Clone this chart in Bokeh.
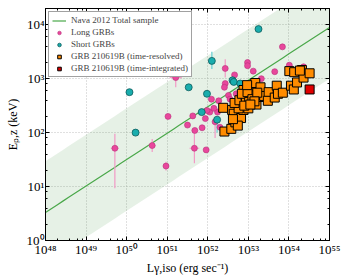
import numpy as np
from bokeh.plotting import figure
from bokeh.models import (LogAxis, LogTicker, CustomJSTickFormatter, Legend,
                          LegendItem, Range1d)
from bokeh.embed import file_html
from bokeh.resources import INLINE

# ---- data (log10 values) ----
# Nava 2012 total sample relation: log Ep = a + b (log L - 48), band +/- w dex
nava_a = 0.52
nava_b = 0.49
nava_w = 0.95
nava_logL = [48.0, 55.0]

long_logL = [49.71, 50.63, 50.97, 51.02, 51.67, 51.96, 51.21, 51.63, 51.68, 51.86,
             52.05, 51.94, 52.18, 52.24, 51.50, 52.43, 52.98, 52.98, 53.12, 53.65,
             54.01, 54.36, 53.84, 52.66, 53.32, 52.43, 52.41, 52.51, 52.09, 52.27,
             52.70, 52.70, 51.98, 52.30, 52.55, 52.15]
long_logE = [1.71, 1.76, 1.38, 2.30, 1.71, 1.68, 3.02, 2.31, 2.04, 2.09,
             2.38, 2.26, 2.20, 2.38, 2.14, 3.19, 3.30, 3.24, 3.14, 3.13,
             3.25, 3.22, 3.59, 3.07, 3.00, 2.91, 2.84, 2.69, 2.62, 2.59,
             2.72, 2.57, 2.41, 2.10, 2.62, 2.45]
long_errE_lo = [0.74, 0.12, 0.08, 0.0, 0.28, 0.0, 0.18, 0.0, 0.0, 0.0,
                0.0, 0.0, 0.30, 0.0, 0.0, 0.17, 0.0, 0.0, 0.0, 0.0,
                0.0, 0.0, 0.0, 0.0, 0.0, 0.0, 0.0, 0.0, 0.0, 0.0,
                0.0, 0.0, 0.0, 0.0, 0.0, 0.0]
long_errE_hi = [0.27, 0.12, 0.08, 0.0, 0.28, 0.0, 0.18, 0.0, 0.0, 0.0,
                0.0, 0.0, 0.0, 0.0, 0.0, 0.17, 0.0, 0.0, 0.0, 0.0,
                0.0, 0.0, 0.0, 0.0, 0.0, 0.0, 0.0, 0.0, 0.0, 0.0,
                0.0, 0.0, 0.0, 0.0, 0.0, 0.0]
long_errL = [0.10, 0.08, 0.0, 0.0, 0.12, 0.0, 0.15, 0.0, 0.0, 0.0,
             0.0, 0.0, 0.0, 0.0, 0.0, 0.0, 0.0, 0.0, 0.0, 0.0,
             0.0, 0.0, 0.0, 0.0, 0.0, 0.0, 0.0, 0.0, 0.0, 0.0,
             0.0, 0.0, 0.0, 0.0, 0.0, 0.0]

short_logL = [50.07, 50.22, 53.25, 52.10, 51.53, 52.61, 52.64, 52.80, 51.98, 51.85, 52.23]
short_logE = [2.75, 2.00, 3.92, 3.33, 2.84, 2.97, 2.94, 2.91, 2.72, 2.38, 2.24]
short_errE_lo = [0.0, 0.0, 0.0, 0.15, 0.0, 0.0, 0.0, 0.0, 0.0, 0.0, 0.24]
short_errE_hi = [0.0, 0.0, 0.0, 0.17, 0.0, 0.0, 0.0, 0.0, 0.0, 0.0, 0.0]

tr_logL = [52.38, 52.41, 52.58, 52.68, 52.72, 52.70, 52.60, 52.64, 52.82, 52.88,
           52.76, 52.66, 52.78, 52.88, 52.93, 52.94, 52.84, 53.07, 53.13, 53.17,
           53.20, 53.02, 53.30, 53.30, 53.39, 53.50, 53.48, 53.65, 53.70, 53.73,
           53.85, 54.01, 54.13, 54.05, 54.12, 54.20, 54.32, 54.36, 54.51, 54.27,
           52.98, 53.10, 53.00, 52.90, 52.97, 53.22, 52.74, 52.62, 53.15, 53.05]
tr_logE = [2.46, 2.02, 2.07, 2.19, 2.30, 2.50, 2.42, 2.35, 2.27, 2.42,
           2.45, 2.55, 2.60, 2.79, 2.69, 2.60, 2.72, 2.82, 2.69, 2.92,
           2.52, 2.57, 2.84, 2.66, 2.68, 2.75, 2.59, 2.65, 2.87, 2.72,
           2.74, 3.14, 3.12, 2.87, 2.80, 2.93, 3.16, 3.02, 3.10, 3.15,
           2.75, 2.62, 2.45, 2.50, 2.88, 2.74, 2.13, 2.25, 2.58, 2.52]

ti_logL = [54.51]
ti_logE = [2.80]

FONT = "Liberation Serif"
PINK = "#e8479c"
PINK_ERR = "#f29ac6"
TEAL = "#19adad"
TEAL_ERR = "#86d9d9"

p = figure(width=349, height=279, x_axis_type="log", y_axis_type="log",
           x_range=Range1d(1e48, 1e55), y_range=Range1d(1, 2.0e4),
           output_backend="svg", toolbar_location=None,
           min_border_left=45, min_border_right=20, min_border_top=8, min_border_bottom=39)

# band + line
bx = np.linspace(nava_logL[0], nava_logL[1], 50)
by = nava_a + nava_b * (bx - 48)
p.varea(x=10 ** bx, y1=10 ** (by - nava_w), y2=10 ** (by + nava_w),
        fill_color="#3c963c", fill_alpha=0.13)
nava_r = p.line(x=10 ** bx, y=10 ** by, line_color="#4aa84a", line_width=1.2)

# error bars
lL = np.array(long_logL); lE = np.array(long_logE)
lo = np.array(long_errE_lo); hi = np.array(long_errE_hi); eL = np.array(long_errL)
m = (lo + hi) > 0
p.segment(x0=10 ** lL[m], y0=10 ** (lE[m] - lo[m]), x1=10 ** lL[m], y1=10 ** (lE[m] + hi[m]),
          line_color=PINK_ERR, line_width=1.2)
m2 = eL > 0
p.segment(x0=10 ** (lL[m2] - eL[m2]), y0=10 ** lE[m2], x1=10 ** (lL[m2] + eL[m2]), y1=10 ** lE[m2],
          line_color=PINK_ERR, line_width=1.2)
sL = np.array(short_logL); sE = np.array(short_logE)
slo = np.array(short_errE_lo); shi = np.array(short_errE_hi)
ms = (slo + shi) > 0
p.segment(x0=10 ** sL[ms], y0=10 ** (sE[ms] - slo[ms]), x1=10 ** sL[ms], y1=10 ** (sE[ms] + shi[ms]),
          line_color=TEAL_ERR, line_width=1.6)

long_r = p.scatter(x=10 ** lL, y=10 ** lE, marker="circle", size=6,
                   fill_color=PINK, line_color="#b8307a", line_width=0.6)
short_r = p.scatter(x=10 ** sL, y=10 ** sE, marker="circle", size=7,
                    fill_color=TEAL, line_color="#0e5c5c", line_width=0.8)
tr_r = p.scatter(x=10 ** np.array(tr_logL), y=10 ** np.array(tr_logE), marker="square", size=9,
                 fill_color="#ff8c00", line_color="black", line_width=1)
ti_r = p.scatter(x=10 ** np.array(ti_logL), y=10 ** np.array(ti_logE), marker="square", size=9,
                 fill_color="#e00000", line_color="black", line_width=1)

fmt_code = """
const sup = {'0':'⁰','1':'¹','2':'²','3':'³','4':'⁴','5':'⁵','6':'⁶','7':'⁷','8':'⁸','9':'⁹','-':'⁻'};
const e = Math.round(Math.log10(tick));
return '10' + String(e).split('').map(c => sup[c]).join('');
"""
blank = CustomJSTickFormatter(code="return ''")

for ax in p.xaxis + p.yaxis:
    ax.formatter = CustomJSTickFormatter(code=fmt_code)
    ax.major_label_text_font = FONT
    ax.major_label_text_font_size = "13px"
    ax.major_label_text_color = "black"
    ax.axis_label_text_font = FONT
    ax.axis_label_text_font_size = "12px"
    ax.axis_label_text_color = "black"
    ax.axis_label_text_font_style = "normal"
    ax.major_tick_in = 4
    ax.major_tick_out = 0
    ax.minor_tick_in = 2
    ax.minor_tick_out = 0
    ax.major_label_standoff = 1
    ax.axis_label_standoff = 1

p.yaxis.axis_label_standoff = 4
p.xaxis.ticker = LogTicker(desired_num_ticks=8)
p.yaxis.ticker = LogTicker(desired_num_ticks=5)
p.xaxis.axis_label = "Lγ,iso (erg sec⁻¹)"
p.yaxis.axis_label = "Eₚ,z (keV)"

for loc in ["above", "right"]:
    ax = LogAxis(ticker=LogTicker(desired_num_ticks=8 if loc == "above" else 5))
    ax.formatter = blank
    ax.major_label_text_font_size = "0px"
    ax.major_label_standoff = 0
    ax.major_tick_in = 4
    ax.major_tick_out = 0
    ax.minor_tick_in = 2
    ax.minor_tick_out = 0
    p.add_layout(ax, loc)

p.xgrid.ticker = LogTicker(desired_num_ticks=8, num_minor_ticks=0)
p.ygrid.ticker = LogTicker(desired_num_ticks=5, num_minor_ticks=0)
p.grid.grid_line_color = "#b0b0b0"
p.grid.grid_line_dash = "1 2"
p.grid.grid_line_width = 0.8

p.outline_line_color = "black"
p.outline_line_width = 1

legend = Legend(items=[
    LegendItem(label="Nava 2012 Total sample", renderers=[nava_r]),
    LegendItem(label="Long GRBs", renderers=[long_r]),
    LegendItem(label="Short GRBs", renderers=[short_r]),
    LegendItem(label="GRB 210619B (time-resolved)", renderers=[tr_r]),
    LegendItem(label="GRB 210619B (time-integrated)", renderers=[ti_r]),
], location="top_left")
legend.label_text_font = FONT
legend.label_text_font_size = "9px"
legend.glyph_width = 14
legend.glyph_height = 9
legend.label_height = 9
legend.spacing = 2
legend.padding = 3
legend.margin = 3
legend.label_standoff = 5
legend.border_line_color = "#444444"
legend.border_line_width = 1
legend.background_fill_alpha = 1
p.add_layout(legend)

open("out.html", "w").write(file_html(p, INLINE))
